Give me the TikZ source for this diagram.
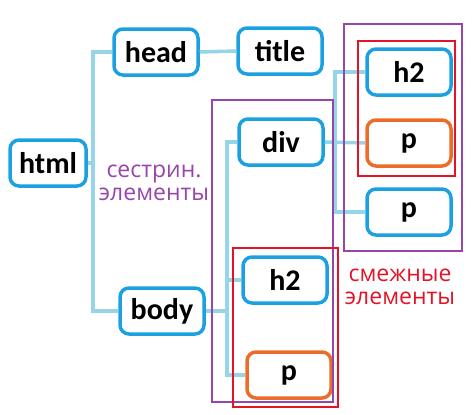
\documentclass[tikz,border=0pt]{standalone}
\usepackage{fontspec}
\setmainfont{Open Sans}
\newfontfamily\tagfont{Carlito}
\usetikzlibrary{positioning}
\definecolor{boxblue}{RGB}{27,161,226}
\definecolor{linkblue}{RGB}{150,212,232}
\definecolor{boxorange}{RGB}{238,108,42}
\definecolor{grppurple}{RGB}{150,70,170}
\definecolor{grpred}{RGB}{228,20,40}

\begin{document}
\begin{tikzpicture}[x=1pt, y=-1pt,
    tag/.style={draw=boxblue, line width=3.5pt, fill=white, rounded corners=9pt,
                minimum width=84pt, minimum height=46pt, inner sep=0pt,
                font=\tagfont\fontsize{30}{32}\selectfont\bfseries},
    hit/.style={tag, draw=boxorange},
    link/.style={linkblue, line width=3.5pt},
    sib/.style={grppurple, line width=2pt},
    adj/.style={grpred, line width=2.5pt},
    note/.style={align=center, font=\fontsize{23}{23}\selectfont}
  ]
    \useasboundingbox (0,0) rectangle (474,415);

    \node[tag, minimum width=76pt] (html) at (48,163) {html};
    \node[tag] (head) at (156,52) {head};
    \node[tag] (title) at (280,51) {title};
    \node[tag] (body) at (162,311) {body};
    \node[tag] (div) at (281,142) {div};
    \node[tag] (h2a) at (409,72) {h2};
    \node[hit] (pa) at (409,143) {p};
    \node[tag] (pc) at (409,212) {p};
    \node[tag] (h2b) at (285,280) {h2};
    \node[hit] (pb) at (289,375) {p};

    % tree lines
    \coordinate (trunkA) at (93,163);
    \coordinate (trunkB) at (227,315);
    \coordinate (trunkC) at (335,142);
    \draw[link] (html.east) -- (trunkA);
    \draw[link] (head.west) -| (trunkA) |- (body.west);
    \draw[link] (head.east) -- (title.west);
    \draw[link] (body.east) -- (body.east -| trunkB);
    \draw[link] (div.west) -| (trunkB) |- (pb.west);
    \draw[link] (h2b.west) -- (h2b.west -| trunkB);
    \draw[link] (div.east) -- (pa.west);
    \draw[link] (h2a.west) -| (trunkC) |- (pc.west);

    % groups
    \draw[sib] (212,100) rectangle (333,402);
    \draw[adj] (233,248) rectangle (338,407);
    \draw[sib] (344,24) rectangle (462,251);
    \draw[adj] (358,41) rectangle (455,176);

    \node[note, text=grppurple] (sibnote) at (154,183) {сестрин.\\элементы};
    \node[note, text=grpred] (adjnote) at (400,287) {смежные\\элементы};
\end{tikzpicture}
\end{document}
